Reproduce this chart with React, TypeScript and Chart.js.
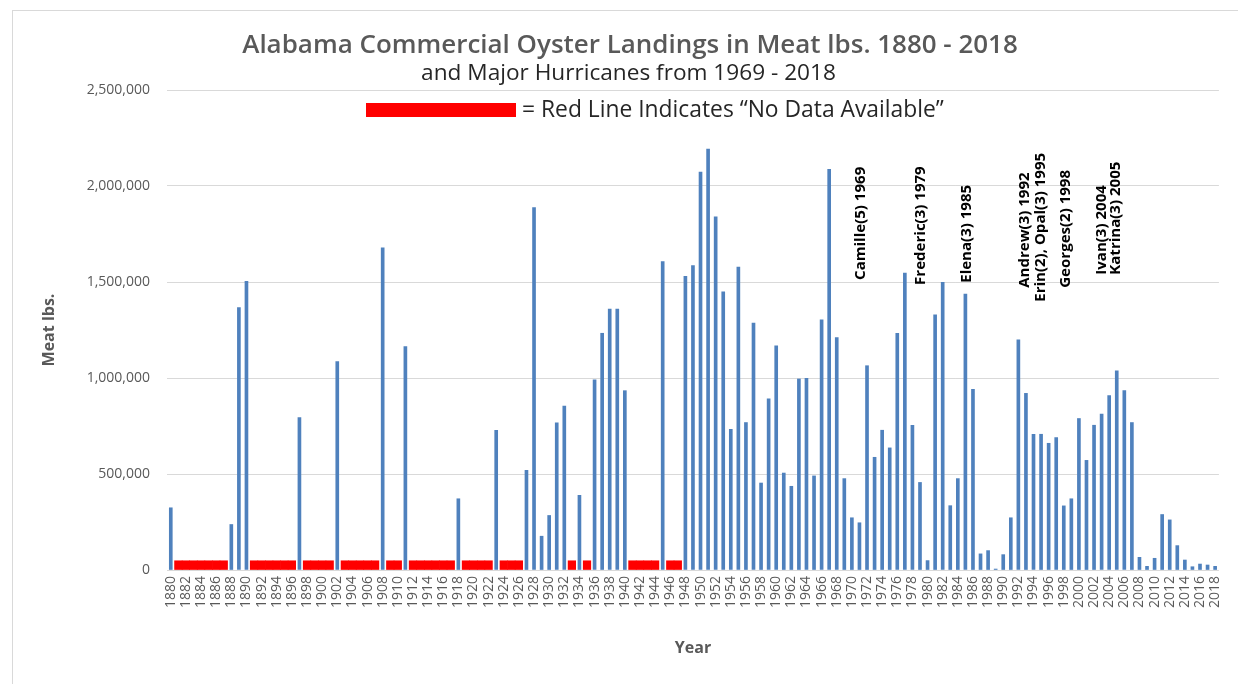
import React, { useEffect, useRef } from "react";
import { Chart, registerables } from "chart.js";

Chart.register(...registerables);

// ---------- data ----------
const startYear = 1880;
const endYear = 2018;
const years: string[] = [];
for (let y = startYear; y <= endYear; y++) years.push(String(y));

// Meat lbs. per year (null = no data available)
const landings: (number | null)[] = [
  // 1880s
  324000, null, null, null, null, null, null, null, 237000, 1367000,
  // 1890s
  1503000, null, null, null, null, null, null, 794000, null, null,
  // 1900s
  null, null, 1085000, null, null, null, null, null, 1678000, null,
  // 1910s
  null, 1164000, null, null, null, null, null, null, 371000, null,
  // 1920s
  null, null, null, 728000, null, null, null, 519000, 1887000, 176000,
  // 1930s
  284000, 767000, 854000, null, 389000, null, 990000, 1233000, 1359000, 1359000,
  // 1940s
  934000, null, null, null, null, 1606000, null, null, 1530000, 1585000,
  // 1950s
  2073000, 2192000, 1840000, 1449000, 733000, 1578000, 768000, 1286000, 453000, 892000,
  // 1960s
  1167000, 505000, 436000, 995000, 998000, 490000, 1303000, 2087000, 1211000, 476000,
  // 1970s
  272000, 246000, 1064000, 587000, 728000, 636000, 1233000, 1547000, 754000, 456000,
  // 1980s
  49000, 1329000, 1498000, 335000, 476000, 1437000, 941000, 84000, 101000, 5000,
  // 1990s
  80000, 272000, 1199000, 920000, 707000, 707000, 660000, 690000, 334000, 371000,
  // 2000s
  789000, 571000, 754000, 812000, 908000, 1037000, 934000, 768000, 66000, 19000,
  // 2010s
  61000, 289000, 261000, 127000, 52000, 17000, 31000, 26000, 19000,
];

const noDataYears: number[] = [
  1881, 1882, 1883, 1884, 1885, 1886, 1887,
  1891, 1892, 1893, 1894, 1895, 1896,
  1898, 1899, 1900, 1901,
  1903, 1904, 1905, 1906, 1907,
  1909, 1910,
  1912, 1913, 1914, 1915, 1916, 1917,
  1919, 1920, 1921, 1922,
  1924, 1925, 1926,
  1933, 1935,
  1941, 1942, 1943, 1944,
  1946, 1947,
];
const noDataBand = 48000;

const yTickMin = 0;
const yTickMax = 2500000;
const yTickStep = 500000;

// Hurricane annotations (rotated text): label, year position, value where text starts
const hurricaneLabels = [
  "Camille(5) 1969",
  "Frederic(3) 1979",
  "Elena(3) 1985",
  "Andrew(3) 1992",
  "Erin(2), Opal(3) 1995",
  "Georges(2) 1998",
  "Ivan(3) 2004",
  "Katrina(3) 2005",
];
const hurricaneLabelYear = [1971.2, 1979.1, 1985.2, 1992.9, 1995.0, 1998.3, 2003.0, 2004.9];
const hurricaneLabelBase = [1511000, 1485000, 1496000, 1470000, 1397000, 1470000, 1538000, 1538000];

const titleText = "Alabama Commercial Oyster Landings in Meat lbs. 1880 - 2018";
const subtitleText = "and Major Hurricanes from 1969 - 2018";
const legendText = "= Red Line Indicates \u201CNo Data Available\u201D";

// ---------- helpers ----------
const FONT = "'Open Sans', 'Liberation Sans', sans-serif";

function setFittedFont(ctx: CanvasRenderingContext2D, text: string, weight: string, base: number, target: number) {
  ctx.font = `${weight} ${base}px ${FONT}`;
  const w = ctx.measureText(text).width;
  const size = w > 0 ? (base * target) / w : base;
  ctx.font = `${weight} ${size}px ${FONT}`;
}

const overlayPlugin = {
  id: "overlayPlugin",
  beforeDraw(chart: any) {
    const ctx: CanvasRenderingContext2D = chart.ctx;
    ctx.save();
    ctx.fillStyle = "#ffffff";
    ctx.fillRect(0, 0, chart.width, chart.height);
    ctx.strokeStyle = "#d9d9d9";
    ctx.lineWidth = 1;
    ctx.strokeRect(12.5, 10.5, chart.width + 20, chart.height + 20);
    ctx.restore();
  },
  afterDraw(chart: any) {
    const ctx: CanvasRenderingContext2D = chart.ctx;
    const xs = chart.scales.x;
    const ys = chart.scales.y;
    ctx.save();
    // Title
    ctx.textBaseline = "middle";
    ctx.textAlign = "center";
    ctx.fillStyle = "#595959";
    setFittedFont(ctx, titleText, "600", 24, 776);
    ctx.fillText(titleText, 630, 46);
    // Subtitle
    ctx.fillStyle = "#262626";
    setFittedFont(ctx, subtitleText, "400", 19, 415);
    ctx.fillText(subtitleText, 628.5, 74);
    // Legend
    ctx.fillStyle = "#ff0000";
    ctx.fillRect(366, 103, 150, 14);
    ctx.fillStyle = "#262626";
    ctx.textAlign = "left";
    setFittedFont(ctx, legendText, "400", 19, 422);
    ctx.fillText(legendText, 522, 110);

    // Hurricane annotations
    ctx.fillStyle = "#000000";
    setFittedFont(ctx, "Erin(2), Opal(3) 1995", "700", 13, 149);
    ctx.textAlign = "left";
    ctx.textBaseline = "middle";
    for (let i = 0; i < hurricaneLabels.length; i++) {
      const px = xs.getPixelForValue(hurricaneLabelYear[i] - startYear);
      const py = ys.getPixelForValue(hurricaneLabelBase[i]);
      ctx.save();
      ctx.translate(px, py);
      ctx.rotate(-Math.PI / 2);
      ctx.fillText(hurricaneLabels[i], 0, 0);
      ctx.restore();
    }
    ctx.restore();
  },
};

export default function App() {
  const canvasRef = useRef<HTMLCanvasElement | null>(null);

  useEffect(() => {
    if (!canvasRef.current) return;
    const noDataSeries = years.map((y) => (noDataYears.includes(Number(y)) ? noDataBand : null));

    const chart = new Chart(canvasRef.current, {
      type: "bar",
      data: {
        labels: years,
        datasets: [
          {
            label: "No Data Available",
            data: noDataSeries,
            backgroundColor: "#ff0000",
            borderWidth: 0,
            barPercentage: 1,
            categoryPercentage: 1,
            grouped: false,
            order: 2,
          } as any,
          {
            label: "Meat lbs.",
            data: landings,
            backgroundColor: "#4f81bd",
            borderWidth: 0,
            barThickness: 3,
            grouped: false,
            order: 1,
          } as any,
        ],
      },
      options: {
        responsive: false,
        devicePixelRatio: 1,
        animation: false,
        layout: { padding: { left: 36, top: 90, right: 19, bottom: 14 } },
        plugins: {
          legend: { display: false },
          title: { display: false },
          tooltip: { enabled: false },
        },
        scales: {
          x: {
            offset: true,
            grid: { display: false, drawTicks: false },
            border: { display: false },
            ticks: {
              autoSkip: false,
              minRotation: 90,
              maxRotation: 90,
              padding: 6,
              color: "#595959",
              font: { family: FONT, size: 14 },
              callback: function (this: any, value: any, index: number) {
                return index % 2 === 0 ? this.getLabelForValue(value) : "";
              },
            },
            title: {
              display: true,
              text: "Year",
              color: "#595959",
              font: { family: FONT, size: 16, weight: "bold" },
              padding: { top: 0, bottom: 12 },
            },
            afterFit: (scale: any) => {
              scale.height = 100;
            },
          },
          y: {
            min: yTickMin,
            max: yTickMax,
            grid: { color: "#d9d9d9", lineWidth: 1, drawTicks: false },
            border: { display: false },
            ticks: {
              stepSize: yTickStep,
              padding: 17,
              color: "#595959",
              font: { family: FONT, size: 14 },
              callback: (v: any) => Number(v).toLocaleString("en-US"),
            },
            title: {
              display: true,
              text: "Meat lbs.",
              color: "#595959",
              font: { family: FONT, size: 16, weight: "bold" },
              padding: { top: 4, bottom: 4 },
            },
            afterFit: (scale: any) => {
              scale.width = 131;
            },
          },
        },
      },
      plugins: [overlayPlugin],
    });
    return () => chart.destroy();
  }, []);

  return (
    <div style={{ position: "absolute", left: 0, top: 0, width: 1238, height: 684, background: "#fff" }}>
      <canvas ref={canvasRef} width={1238} height={684} style={{ display: "block", width: 1238, height: 684 }} />
    </div>
  );
}
